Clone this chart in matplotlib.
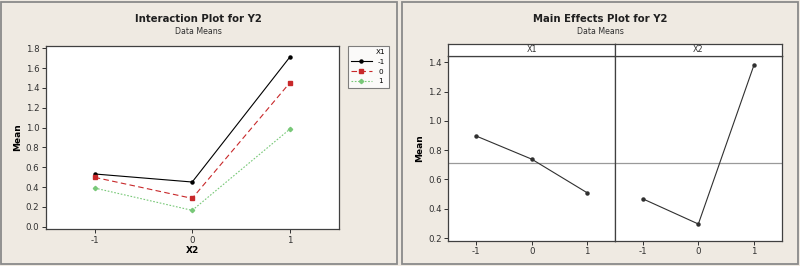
import matplotlib
matplotlib.use("Agg")
import matplotlib.pyplot as plt
import numpy as np
from matplotlib.patches import Rectangle

# ---- data ----
x2_levels = [-1, 0, 1]
x1_labels = ["-1", "0", "1"]
y2_x1_m1 = [0.532, 0.451, 1.709]
y2_x1_0 = [0.498, 0.286, 1.450]
y2_x1_p1 = [0.390, 0.165, 0.983]

main_levels = [-1, 0, 1]
main_x1 = [0.897, 0.739, 0.509]
main_x2 = [0.468, 0.296, 1.380]

plt.rcParams['font.family'] = ['DejaVu Sans']
plt.rcParams['axes.unicode_minus'] = False

BG = "#EFEAE2"
W, H = 800, 266
fig = plt.figure(figsize=(8, 2.66), dpi=100, facecolor=BG)

def fr(x0, y0, x1, y1):
    return [x0 / W, (H - y1) / H, (x1 - x0) / W, (y1 - y0) / H]

# panel borders
for (a, b, c, d) in [(1, 1.5, 396.7, 264), (402.3, 1.5, 797.5, 264)]:
    fig.patches.append(Rectangle((a / W, (H - d) / H), (c - a) / W, (d - b) / H,
                                 transform=fig.transFigure, fill=False,
                                 edgecolor="#8A8A8A", lw=1.3))

SP = "#404040"
TK = 6.2

def style(ax):
    ax.set_facecolor("white")
    for s in ax.spines.values():
        s.set_color(SP)
        s.set_linewidth(0.9)
    ax.tick_params(labelsize=TK, colors="#303030", length=3, width=0.7, pad=1.5)

# ---- left: interaction plot ----
ax = fig.add_axes(fr(45.7, 45.7, 338.7, 229.3))
style(ax)
l1, = ax.plot(x2_levels, y2_x1_m1, color="black", lw=0.8, ls="-",
              marker="o", ms=2.2, label=x1_labels[0])
l2, = ax.plot(x2_levels, y2_x1_0, color="#C8282A", lw=0.8, ls=(0, (5, 3)),
              marker="s", ms=2.6, label=x1_labels[1])
l3, = ax.plot(x2_levels, y2_x1_p1, color="#78C878", lw=0.8, ls=(0, (1.5, 1.5)),
              marker="D", ms=2.2, label=x1_labels[2])
ax.set_xlim(-1.503, 1.503)
ax.set_ylim(-0.026, 1.826)
ax.set_xticks(x2_levels)
yt = np.round(np.arange(0, 1.81, 0.2), 1)
ax.set_yticks(yt)
ax.set_yticklabels([f"{v:.1f}" for v in yt])
ax.set_xlabel("X2", fontsize=6.5, fontweight="bold", labelpad=1)
ax.set_ylabel("Mean", fontsize=6.5, fontweight="bold", labelpad=3)
fig.text(198 / W, 1 - 19.5 / H, "Interaction Plot for Y2", ha="center", va="center",
         fontsize=7.3, fontweight="bold", color="#202020")
fig.text(198 / W, 1 - 32 / H, "Data Means", ha="center", va="center",
         fontsize=5.7, color="#303030")

# legend
leg = fig.legend(handles=[l1, l2, l3], title="X1", loc="upper left",
                 bbox_to_anchor=(347.7 / W, 1 - 45.7 / H), fontsize=5.2,
                 title_fontsize=5.2, frameon=True, fancybox=False,
                 edgecolor="#606060", facecolor="white", handlelength=2.8,
                 handletextpad=0.9, borderpad=0.5, labelspacing=0.5,
                 borderaxespad=0, alignment="right", markerfirst=True)
leg.get_frame().set_linewidth(0.8)
for t in leg.get_texts():
    t.set_ha("right")

# ---- right: main effects plot ----
fig.text(600 / W, 1 - 19.5 / H, "Main Effects Plot for Y2", ha="center", va="center",
         fontsize=7.3, fontweight="bold", color="#202020")
fig.text(600 / W, 1 - 32 / H, "Data Means", ha="center", va="center",
         fontsize=5.7, color="#303030")

grand_mean = np.mean(main_x1)
panels = [("X1", main_x1, 448.3, 615), ("X2", main_x2, 615, 781.7)]
for i, (name, vals, x0, x1) in enumerate(panels):
    a = fig.add_axes(fr(x0, 55.7, x1, 241))
    style(a)
    a.axhline(grand_mean, color="#9A9A9A", lw=0.9, zorder=1)
    a.plot(main_levels, vals, color="#303030", lw=0.8, marker="o", ms=2.2, zorder=3)
    a.set_xlim(-1.5, 1.5)
    a.set_ylim(0.18, 1.445)
    a.set_xticks(main_levels)
    yt2 = [0.2, 0.4, 0.6, 0.8, 1.0, 1.2, 1.4]
    a.set_yticks(yt2)
    a.set_yticklabels([f"{v:.1f}" for v in yt2])
    if i == 0:
        a.set_ylabel("Mean", fontsize=6.5, fontweight="bold", labelpad=3)
    else:
        a.tick_params(axis="y", left=False, labelleft=False)
    s = fig.add_axes(fr(x0, 44.3, x1, 55.7))
    s.set_facecolor("white")
    s.set_xticks([]); s.set_yticks([])
    for sp in s.spines.values():
        sp.set_color(SP); sp.set_linewidth(0.9)
    s.text(0.5, 0.5, name, ha="center", va="center", fontsize=5.8,
           color="#303030", transform=s.transAxes)

fig.savefig("out.png", dpi=100, facecolor=BG)
